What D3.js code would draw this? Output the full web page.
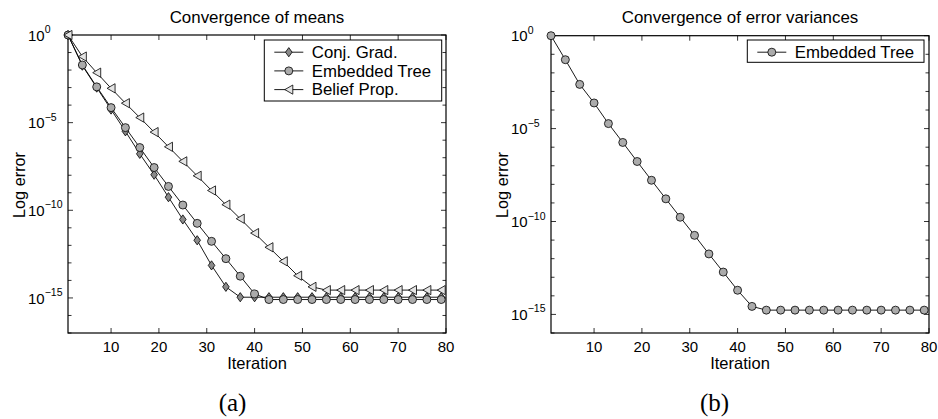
<!DOCTYPE html>
<html>
<head>
<meta charset="utf-8">
<script src="https://cdn.jsdelivr.net/npm/d3@7"></script>
<style>
  html, body { margin: 0; padding: 0; background: #fff; }
  svg { display: block; }
  text { font-family: "Liberation Sans", Arial, Helvetica, sans-serif; fill: #000; }
</style>
</head>
<body>
<svg id="chart" width="938" height="419"></svg>
<script>
// ---- data ----
const iterations = [1,4,7,10,13,16,19,22,25,28,31,34,37,40,43,46,49,52,55,58,61,64,67,70,73,76,79];

const conjGrad = [1, 1.78e-2, 1.0e-3, 5.6e-5, 3.2e-6, 1.66e-7, 1.07e-8, 5.6e-10, 3.0e-11, 1.95e-12, 7.2e-14, 4.3e-15,
  1.1e-15, 1.1e-15, 1.1e-15, 1.1e-15, 1.1e-15, 1.1e-15, 1.1e-15, 1.1e-15, 1.1e-15, 1.1e-15, 1.1e-15, 1.1e-15, 1.1e-15, 1.1e-15, 1.1e-15];

const embeddedTreeMeans = [1, 1.95e-2, 1.1e-3, 7.2e-5, 5.2e-6, 3.8e-7, 2.75e-8, 2.3e-9, 2.0e-10, 1.8e-11, 1.7e-12, 1.74e-13, 1.74e-14, 1.7e-15,
  8.1e-16, 8.1e-16, 8.1e-16, 8.1e-16, 8.1e-16, 8.1e-16, 8.1e-16, 8.1e-16, 8.1e-16, 8.1e-16, 8.1e-16, 8.1e-16, 8.1e-16];

const beliefProp = [1, 5.9e-2, 7.1e-3, 9.1e-4, 1.29e-4, 1.95e-5, 2.9e-6, 4.2e-7, 6.2e-8, 9.3e-9, 1.35e-9, 2.1e-10, 3.3e-11, 5.0e-12,
  7.8e-13, 1.23e-13, 1.86e-14, 4.3e-15, 2.8e-15, 2.8e-15, 2.8e-15, 2.8e-15, 2.8e-15, 2.8e-15, 2.8e-15, 2.8e-15, 2.8e-15];

const embeddedTreeVariances = [1, 5.1e-2, 2.4e-3, 2.4e-4, 1.86e-5, 1.8e-6, 1.7e-7, 1.66e-8, 1.66e-9, 1.7e-10, 1.8e-11, 1.8e-12, 1.9e-13, 2.0e-14,
  2.7e-15, 1.7e-15, 1.7e-15, 1.7e-15, 1.7e-15, 1.7e-15, 1.7e-15, 1.7e-15, 1.7e-15, 1.7e-15, 1.7e-15, 1.7e-15, 1.7e-15];

const xTicks = [10, 20, 30, 40, 50, 60, 70, 80];
const yMajorExponents = [0, -5, -10, -15];

const titleA = "Convergence of means";
const titleB = "Convergence of error variances";
const xLabel = "Iteration";
const yLabel = "Log error";
const captionA = "(a)";
const captionB = "(b)";

const legendA = ["Conj. Grad.", "Embedded Tree", "Belief Prop."];
const legendB = ["Embedded Tree"];

// ---- drawing ----
const svg = d3.select("#chart");

const markerStyles = {
  diamond: { fill: "#8a8a8a" },
  circle: { fill: "#ababab" },
  triangle: { fill: "#e4e4e4" }
};

function drawMarker(g, type, x, y) {
  const st = markerStyles[type];
  if (type === "circle") {
    g.append("circle").attr("cx", x).attr("cy", y).attr("r", 4)
      .attr("fill", st.fill).attr("stroke", "#000").attr("stroke-width", 0.8);
  } else if (type === "diamond") {
    g.append("path").attr("d", `M${x},${y-4.6}L${x+3.3},${y}L${x},${y+4.6}L${x-3.3},${y}Z`)
      .attr("fill", st.fill).attr("stroke", "#000").attr("stroke-width", 0.8);
  } else {
    g.append("path").attr("d", `M${x-4},${y}L${x+4},${y-4.6}L${x+4},${y+4.6}Z`)
      .attr("fill", st.fill).attr("stroke", "#000").attr("stroke-width", 0.8);
  }
}

function drawPanel(cfg) {
  const { left, right, top, bottom, yMin, series, title, legend, legendBox, caption } = cfg;
  const x = d3.scaleLinear().domain([1, 80]).range([left, right]);
  const y = d3.scaleLog().domain([yMin, 1]).range([bottom, top]);
  const g = svg.append("g");

  // box
  g.append("rect").attr("x", left).attr("y", top).attr("width", right - left).attr("height", bottom - top)
    .attr("fill", "none").attr("stroke", "#000").attr("stroke-width", 1.2);

  // x ticks (bottom and top, inward)
  const tl = 5;
  xTicks.forEach(t => {
    g.append("line").attr("x1", x(t)).attr("x2", x(t)).attr("y1", bottom).attr("y2", bottom - tl).attr("stroke", "#000").attr("stroke-width", 0.8);
    g.append("line").attr("x1", x(t)).attr("x2", x(t)).attr("y1", top).attr("y2", top + tl).attr("stroke", "#000").attr("stroke-width", 0.8);
    g.append("text").attr("x", x(t)).attr("y", bottom + 19).attr("text-anchor", "middle")
      .attr("font-size", 15).text(t);
  });

  // y minor ticks every decade
  const expMin = Math.round(Math.log10(yMin));
  for (let e = expMin; e <= 0; e++) {
    const v = Math.pow(10, e);
    const major = yMajorExponents.includes(e);
    const len = major ? 5 : 3.5;
    g.append("line").attr("x1", left).attr("x2", left + len).attr("y1", y(v)).attr("y2", y(v)).attr("stroke", "#000").attr("stroke-width", 0.8);
    g.append("line").attr("x1", right).attr("x2", right - len).attr("y1", y(v)).attr("y2", y(v)).attr("stroke", "#000").attr("stroke-width", 0.8);
  }
  yMajorExponents.forEach(e => {
    const v = Math.pow(10, e);
    const t = g.append("text").attr("x", left - 40).attr("y", y(v) + 5.7).attr("font-size", 15);
    t.append("tspan").text("10");
    t.append("tspan").attr("dy", -7.7).attr("font-size", 10.5).text(e === 0 ? "0" : "\u2212" + Math.abs(e));
  });

  // title and labels
  const cx = (left + right) / 2;
  g.append("text").attr("x", cx).attr("y", 22.5).attr("text-anchor", "middle").attr("font-size", 16.9).text(title);
  g.append("text").attr("x", cx).attr("y", 369).attr("text-anchor", "middle").attr("font-size", 16.5).text(xLabel);
  g.append("text").attr("transform", `translate(${left - 43},185) rotate(-90)`).attr("text-anchor", "middle")
    .attr("font-size", 16.3).text(yLabel);
  g.append("text").attr("x", caption.x).attr("y", 411).attr("text-anchor", "middle")
    .style("font-family", "'Liberation Serif', 'DejaVu Serif', serif").attr("font-size", 25).text(caption.text);

  // series
  const line = d3.line().x(d => x(d[0])).y(d => y(d[1]));
  series.forEach(s => {
    const pts = iterations.map((it, i) => [it, s.values[i]]);
    g.append("path").attr("d", line(pts)).attr("fill", "none").attr("stroke", "#000").attr("stroke-width", 0.9);
    pts.forEach(p => drawMarker(g, s.marker, x(p[0]), y(p[1])));
  });

  // legend
  const lb = legendBox;
  g.append("rect").attr("x", lb.x).attr("y", lb.y).attr("width", lb.w).attr("height", lb.h)
    .attr("fill", "#fff").attr("stroke", "#000").attr("stroke-width", 1);
  legend.forEach((name, i) => {
    const ry = lb.y + 12.2 + i * 18.7;
    const lx1 = lb.x + 10, lx2 = lb.x + 39;
    g.append("line").attr("x1", lx1).attr("x2", lx2).attr("y1", ry).attr("y2", ry).attr("stroke", "#000").attr("stroke-width", 0.9);
    drawMarker(g, series[i].marker, (lx1 + lx2) / 2, ry);
    g.append("text").attr("x", lb.x + 47.5).attr("y", ry + 5.8).attr("font-size", 16.8).text(name);
  });
}

drawPanel({
  left: 68, right: 446, top: 35, bottom: 333, yMin: 1e-17,
  series: [
    { values: conjGrad, marker: "diamond" },
    { values: embeddedTreeMeans, marker: "circle" },
    { values: beliefProp, marker: "triangle" }
  ],
  title: titleA, legend: legendA,
  legendBox: { x: 264.3, y: 40, w: 177.4, h: 61 },
  caption: { x: 232.5, text: captionA }
});

drawPanel({
  left: 551, right: 929, top: 35.7, bottom: 333, yMin: 1e-16,
  series: [
    { values: embeddedTreeVariances, marker: "circle" }
  ],
  title: titleB, legend: legendB,
  legendBox: { x: 747.3, y: 40, w: 176.7, h: 22.3 },
  caption: { x: 714.5, text: captionB }
});
</script>
</body>
</html>
